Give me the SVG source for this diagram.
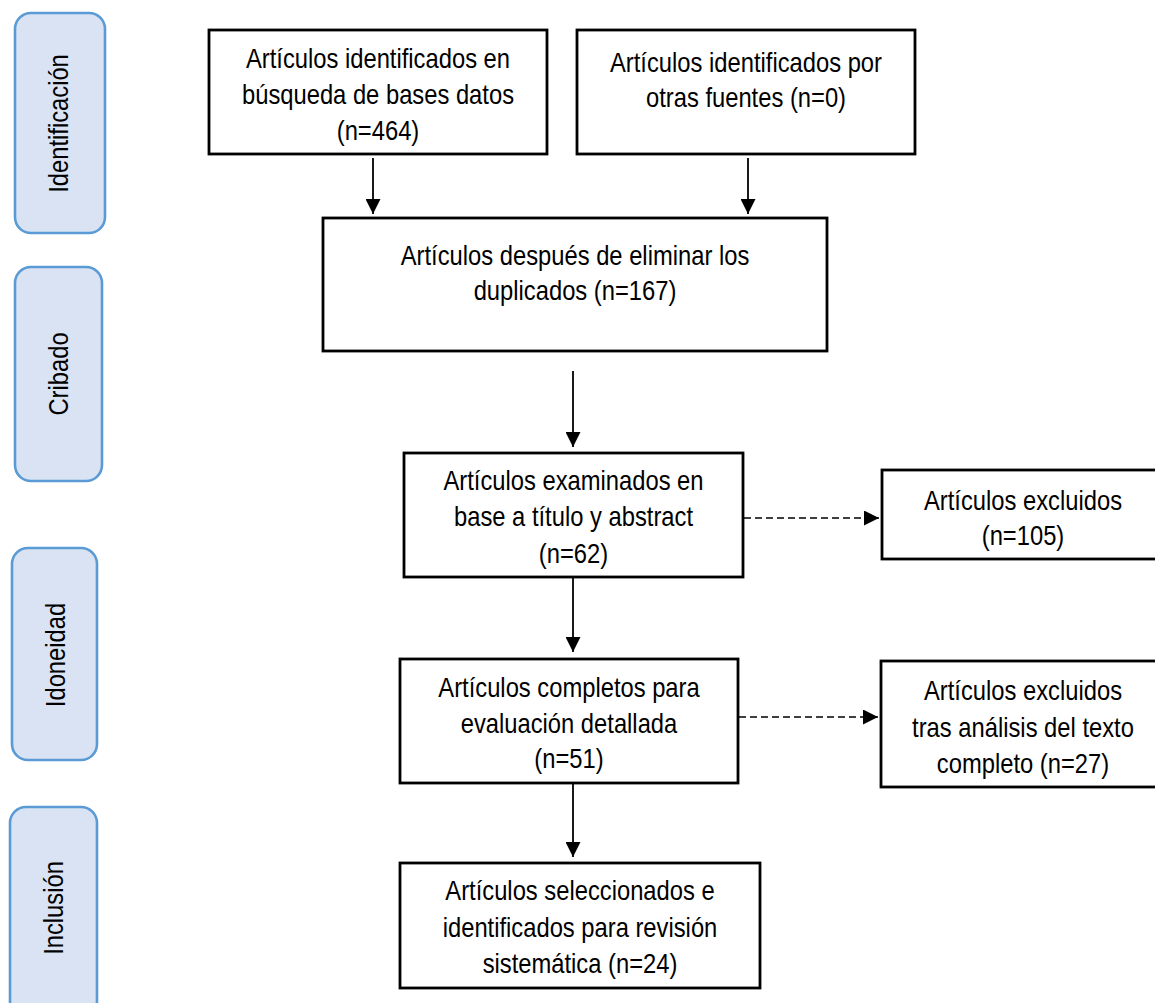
<svg xmlns="http://www.w3.org/2000/svg" width="1155" height="1003" viewBox="0 0 1155 1003">
<style>
.box{fill:#fff;stroke:#000;stroke-width:2.8}
.bar{fill:#dae3f3;stroke:#5b9bd5;stroke-width:2.6}
.t{font-family:"Liberation Sans",Arial,sans-serif;font-size:27px;fill:#000;text-anchor:middle}
.c{stroke:#000;stroke-width:1.8;fill:none}
.d{stroke-dasharray:7 4;stroke-width:1.5}
</style>
<defs>
<marker id="ah" viewBox="0 0 10 10" refX="10" refY="5" markerWidth="15" markerHeight="15" markerUnits="userSpaceOnUse" orient="auto">
<path d="M0,0 L10,5 L0,10 z" fill="#000" stroke="none"/>
</marker>
</defs>
<rect width="1155" height="1003" fill="#fff"/>

<g id="bar-identificacion">
<rect class="bar" x="15" y="13" width="90" height="220" rx="16"/>
<text class="t" transform="translate(68 123.5) rotate(-90) scale(0.88 1)">Identificación</text>
</g>
<g id="bar-cribado">
<rect class="bar" x="15" y="267" width="87" height="214" rx="16"/>
<text class="t" transform="translate(68 374) rotate(-90) scale(0.88 1)">Cribado</text>
</g>
<g id="bar-idoneidad">
<rect class="bar" x="12" y="548" width="85" height="212" rx="16"/>
<text class="t" transform="translate(65 655) rotate(-90) scale(0.88 1)">Idoneidad</text>
</g>
<g id="bar-inclusion">
<rect class="bar" x="10" y="807" width="87" height="210" rx="16"/>
<text class="t" transform="translate(63 908) rotate(-90) scale(0.88 1)">Inclusión</text>
</g>

<g id="n1">
<rect class="box" x="209" y="30" width="338" height="124"/>
<g transform="translate(378 0) scale(0.88 1)">
<text class="t" x="0" y="68">Artículos identificados en</text>
<text class="t" x="0" y="104">búsqueda de bases datos</text>
<text class="t" x="0" y="140">(n=464)</text>
</g>
</g>
<g id="n2">
<rect class="box" x="577" y="30" width="338" height="124"/>
<g transform="translate(746 0) scale(0.88 1)">
<text class="t" x="0" y="72">Artículos identificados por</text>
<text class="t" x="0" y="107">otras fuentes (n=0)</text>
</g>
</g>
<g id="n3">
<rect class="box" x="323" y="218" width="504" height="133"/>
<g transform="translate(575 0) scale(0.88 1)">
<text class="t" x="0" y="265">Artículos después de eliminar los</text>
<text class="t" x="0" y="300">duplicados (n=167)</text>
</g>
</g>
<g id="n4">
<rect class="box" x="404" y="453" width="339" height="124"/>
<g transform="translate(573.5 0) scale(0.88 1)">
<text class="t" x="0" y="490">Artículos examinados en</text>
<text class="t" x="0" y="526">base a título y abstract</text>
<text class="t" x="0" y="563">(n=62)</text>
</g>
</g>
<g id="n5">
<rect class="box" x="882" y="470" width="290" height="89"/>
<g transform="translate(1023 0) scale(0.88 1)">
<text class="t" x="0" y="510">Artículos excluidos</text>
<text class="t" x="0" y="545">(n=105)</text>
</g>
</g>
<g id="n6">
<rect class="box" x="400" y="659" width="338" height="124"/>
<g transform="translate(569 0) scale(0.88 1)">
<text class="t" x="0" y="697">Artículos completos para</text>
<text class="t" x="0" y="733">evaluación detallada</text>
<text class="t" x="0" y="768">(n=51)</text>
</g>
</g>
<g id="n7">
<rect class="box" x="881" y="661" width="290" height="126"/>
<g transform="translate(1023 0) scale(0.88 1)">
<text class="t" x="0" y="700">Artículos excluidos</text>
<text class="t" x="0" y="737">tras análisis del texto</text>
<text class="t" x="0" y="773">completo (n=27)</text>
</g>
</g>
<g id="n8">
<rect class="box" x="400" y="863" width="360" height="125"/>
<g transform="translate(580 0) scale(0.88 1)">
<text class="t" x="0" y="900">Artículos seleccionados e</text>
<text class="t" x="0" y="937">identificados para revisión</text>
<text class="t" x="0" y="973">sistemática (n=24)</text>
</g>
</g>

<g id="connectors">
<line class="c" x1="373" y1="158" x2="373" y2="214" marker-end="url(#ah)"/>
<line class="c" x1="748" y1="158" x2="748" y2="214" marker-end="url(#ah)"/>
<line class="c" x1="573" y1="371" x2="573" y2="447" marker-end="url(#ah)"/>
<line class="c" x1="573" y1="577" x2="573" y2="652" marker-end="url(#ah)"/>
<line class="c" x1="573" y1="783" x2="573" y2="857" marker-end="url(#ah)"/>
<line class="c d" x1="744" y1="518" x2="879" y2="518" marker-end="url(#ah)"/>
<line class="c d" x1="739" y1="717" x2="878" y2="717" marker-end="url(#ah)"/>
</g>
</svg>
